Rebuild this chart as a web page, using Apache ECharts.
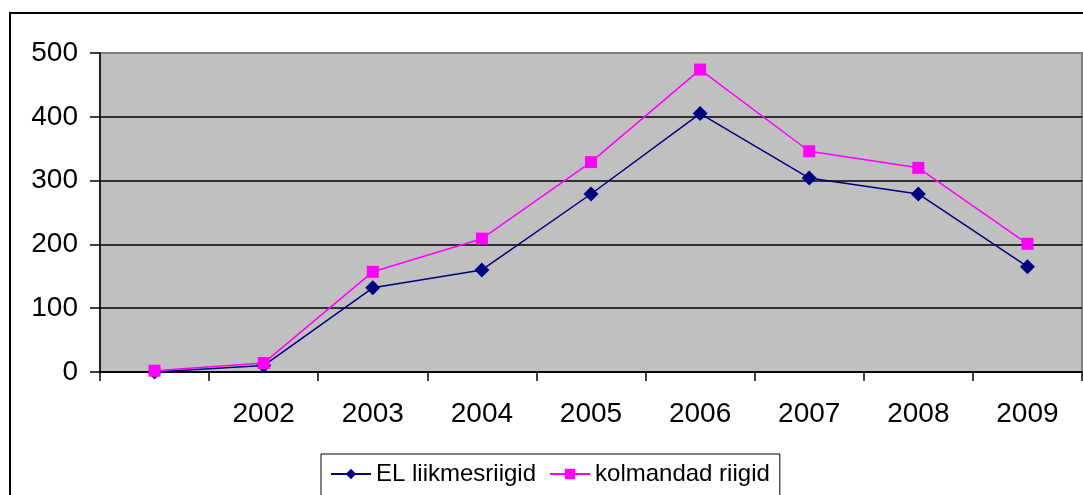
<!DOCTYPE html>
<html>
<head>
<meta charset="utf-8">
<script src="https://cdn.jsdelivr.net/npm/echarts@6/dist/echarts.min.js"></script>
<style>
  html, body { margin: 0; padding: 0; background: #fff; }
  #chart { width: 1083px; height: 495px; }
</style>
</head>
<body>
<div id="chart"></div>
<script>
// andmed
const years = ['', '2002', '2003', '2004', '2005', '2006', '2007', '2008', '2009']
const elMembers = [0, 10, 132, 160, 279, 405, 304, 279, 165]
const thirdCountries = [2, 14, 157, 209, 329, 474, 346, 320, 201]
const yTicks = { min: 0, max: 500, interval: 100 }

const font = 'Liberation Sans, Arial, sans-serif'
const chart = echarts.init(document.getElementById('chart'))

chart.setOption({
  animation: false,
  graphic: [
    {
      type: 'rect',
      shape: { x: 10, y: 13, width: 1100, height: 520 },
      style: { fill: 'none', stroke: '#000', lineWidth: 2 },
      z: -10
    }
  ],
  grid: {
    left: 100,
    right: 1,
    top: 53,
    bottom: 123,
    show: true,
    backgroundColor: '#c0c0c0',
    borderColor: '#808080',
    borderWidth: 2
  },
  legend: {
    top: 454,
    left: 321,
    padding: [8, 10, 30, 9],
    borderColor: '#000',
    borderWidth: 1,
    itemWidth: 40,
    itemHeight: 13,
    itemGap: 13,
    textStyle: { fontFamily: font, fontSize: 24, color: '#000' },
    data: ['EL liikmesriigid', 'kolmandad riigid']
  },
  xAxis: {
    type: 'category',
    data: years,
    boundaryGap: true,
    axisLine: { lineStyle: { color: '#000', width: 1.5 } },
    axisTick: { show: true, length: 9, lineStyle: { color: '#000', width: 1.5 } },
    axisLabel: { margin: 28, fontFamily: font, fontSize: 28, color: '#000' }
  },
  yAxis: {
    type: 'value',
    min: yTicks.min,
    max: yTicks.max,
    interval: yTicks.interval,
    axisLine: { show: true, lineStyle: { color: '#000', width: 1.5 } },
    axisTick: { show: true, length: 10, lineStyle: { color: '#000', width: 1.5 } },
    axisLabel: { margin: 22, fontFamily: font, fontSize: 28, color: '#000' },
    splitLine: { show: true, showMaxLine: false, lineStyle: { color: '#000', width: 1.5 } }
  },
  series: [
    {
      name: 'EL liikmesriigid',
      type: 'line',
      data: elMembers,
      symbol: 'diamond',
      symbolSize: 15,
      itemStyle: { color: '#000080' },
      lineStyle: { color: '#000080', width: 1.5 }
    },
    {
      name: 'kolmandad riigid',
      type: 'line',
      data: thirdCountries,
      symbol: 'rect',
      symbolSize: 12,
      itemStyle: { color: '#ff00ff' },
      lineStyle: { color: '#ff00ff', width: 1.5 }
    }
  ]
})
</script>
</body>
</html>
